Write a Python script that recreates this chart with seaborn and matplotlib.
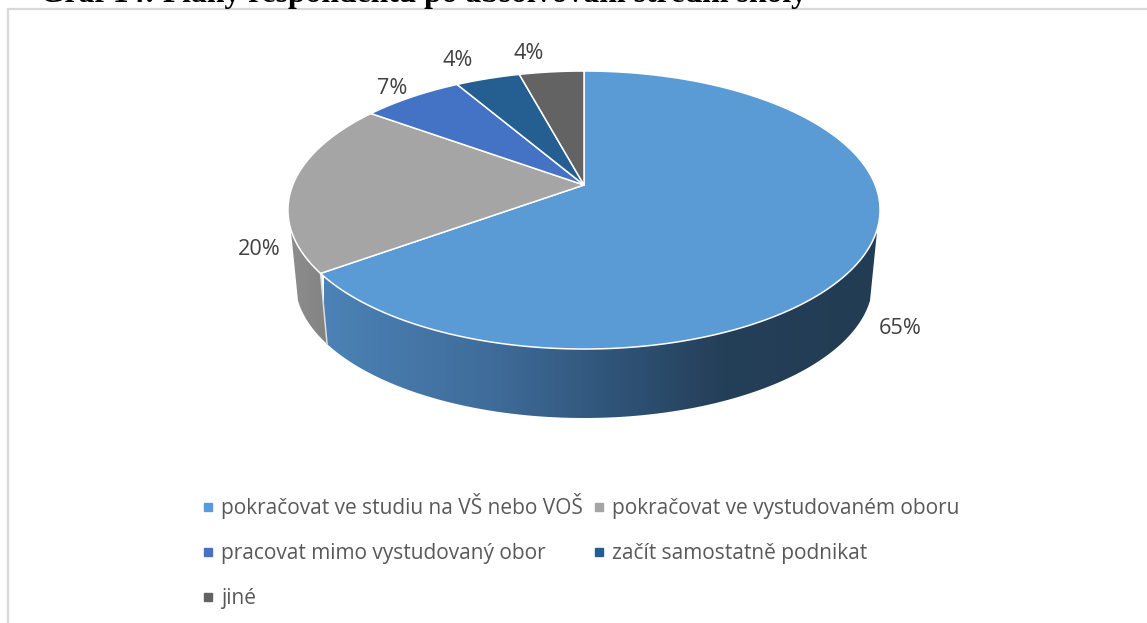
import numpy as np
import matplotlib
matplotlib.use("Agg")
import matplotlib.pyplot as plt
from matplotlib.colors import LinearSegmentedColormap
from matplotlib.lines import Line2D
from matplotlib.patches import Polygon
import seaborn as sns

categories = ["pokračovat ve studiu na VŠ nebo VOŠ", "pokračovat ve vystudovaném oboru",
              "pracovat mimo vystudovaný obor", "začít samostatně podnikat", "jiné"]
values = [65.0, 20.0, 6.6, 4.2, 4.2]
top_colors = ["#5B9BD5", "#A5A5A5", "#4472C4", "#255E91", "#636363"]
title = "Graf 14: Plány respondentů po absolvování střední školy"
label_pos = [(900, 328.5), (259, 249.5), (392, 88.5), (458, 60.5), (529, 53.5)]

sns.set_theme(style="white")
plt.rcParams["font.family"] = ["Open Sans", "DejaVu Sans"]
palette = sns.color_palette(top_colors)

fig = plt.figure(figsize=(11.47, 6.23), dpi=100, facecolor="white")
ax = fig.add_axes([0, 0, 1, 1])
ax.axis("off")

# perspective projection of the pie's circle onto the picture
P = 0.18
CX = 584


def project(theta, cy, a, b):
    u, v = np.sin(theta), np.cos(theta)
    d = 1 + P * v
    return CX + a * u / d, cy - b * v / d


def top_rim(theta):
    return project(theta, 185.0, 291.2, 134.5)


def low_rim(theta):
    return project(theta, 257.5, 284.0, 131.6)


side_blue = LinearSegmentedColormap.from_list(
    "side_blue",
    [(0.0, "#4C82B6"), (0.30, "#3F6C9A"), (0.50, "#31567B"), (0.72, "#243F58"), (1.0, "#223C53")])
side_gray = LinearSegmentedColormap.from_list("side_gray", [(0.0, "#8E8E8E"), (1.0, "#828282")])

edges = 2 * np.pi * np.concatenate([[0], np.cumsum(values)]) / np.sum(values)


def side_wall(t0, t1, cmap, x0, x1, y0, y1):
    th = np.linspace(t0, t1, 400)
    tx, ty = top_rim(th)
    lx, ly = low_rim(th)
    outline = np.column_stack([np.r_[tx, lx[::-1]], np.r_[ty, ly[::-1]]])
    clip = Polygon(outline, closed=True, transform=ax.transData, facecolor="none", edgecolor="none")
    ax.add_patch(clip)
    im = ax.imshow(np.linspace(0, 1, 512)[None, :], cmap=cmap, vmin=0, vmax=1, aspect="auto",
                   extent=(x0, x1, y1, y0), interpolation="bilinear", zorder=1)
    im.set_clip_path(clip)


# only the first two slices show a wall to the viewer
side_wall(np.radians(108), edges[1], side_blue, 324, 880, 200, 430)
side_wall(edges[1], np.radians(252), side_gray, 288, 330, 200, 350)

# seam between the two visible wall colours
sx0, sy0 = top_rim(edges[1])
sx1, sy1 = low_rim(edges[1])
ax.plot([sx0, sx1], [sy0, sy1], color="#DDDDDD", lw=1.1, zorder=2)

# top face
apex = (CX, 185.0)
for i in range(len(values)):
    th = np.linspace(edges[i], edges[i + 1], 300)
    x, y = top_rim(th)
    pts = np.column_stack([np.r_[apex[0], x], np.r_[apex[1], y]])
    ax.add_patch(Polygon(pts, closed=True, facecolor=palette[i], edgecolor="white",
                         linewidth=1.1, joinstyle="round", zorder=3))

# value labels
for v, (lx_, ly_) in zip(values, label_pos):
    ax.text(lx_, ly_, f"{v:.0f}%", ha="center", va="center", fontsize=15.6, color="#404040", zorder=5)

# chart frame
ax.plot([7.5, 7.5, 1147], [623, 8.5, 8.5], color="#D9D9D9", lw=1.6, zorder=0, solid_joinstyle="miter")

# heading, cut by the top of the picture
ax.text(40, 2, title, ha="left", va="baseline", fontsize=22.8, fontweight="bold",
        family="Liberation Serif", color="black")

# legend, read row by row
order = [0, 2, 4, 1, 3]
handles = [Line2D([], [], ls="", marker="s", ms=6, color=palette[i]) for i in order]
ax.legend(handles, [categories[i] for i in order], ncol=2, frameon=False,
          loc="upper left", bbox_to_anchor=(198.5 / 1147, 1 - 493 / 623),
          bbox_transform=fig.transFigure, borderaxespad=0, borderpad=0,
          fontsize=15, labelcolor="#595959", labelspacing=1.15,
          handlelength=0.9, handletextpad=0.18, columnspacing=0.32)

ax.set_xlim(0, 1147)
ax.set_ylim(623, 0)
fig.savefig("out.png", dpi=100)
